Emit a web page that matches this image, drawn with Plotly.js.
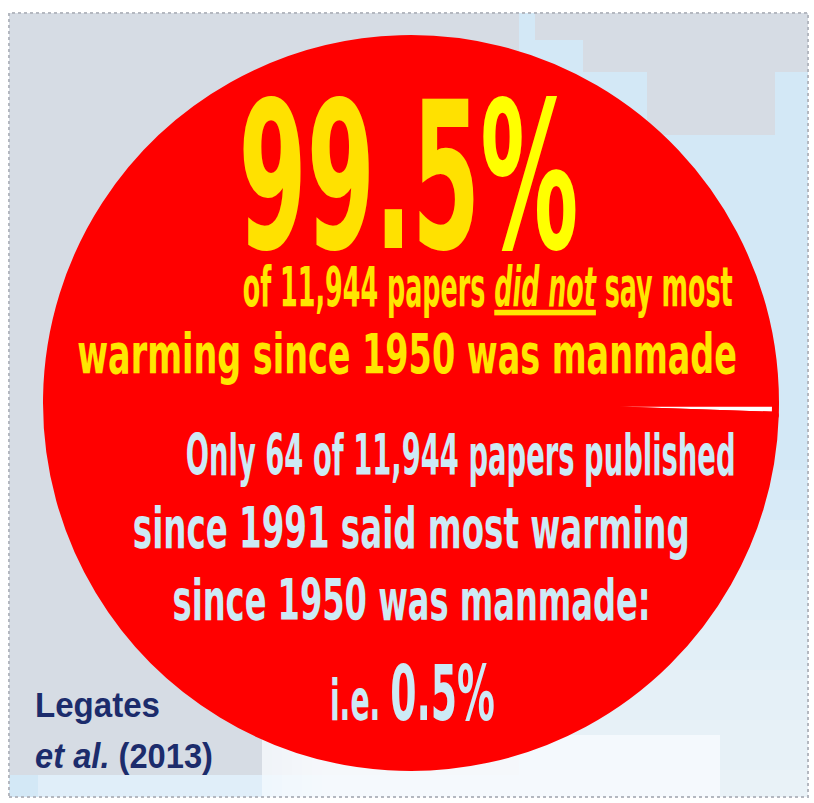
<!DOCTYPE html>
<html><head><meta charset="utf-8">
<script src="https://cdn.plot.ly/plotly-3.0.1.min.js"></script>
<style>html,body{margin:0;padding:0;background:#fff;} #chart{width:814px;height:803px;}</style>
</head><body><div id="chart"></div>
<script>
// ---- data ----
const sliceLabels = ['Said most warming since 1950 was manmade', 'Did not say so'];
const paperCounts = [64, 11880];
const sliceColors = ['#ffffff', '#ff0000'];
const headline = '<span style="color:#ffe100">99.5</span><span style="color:#ffff00">%</span>';
const yellowLines = ['of 11,944 papers <i><u>did not</u></i> say most', 'warming since 1950 was manmade'];
const blueLines = ['Only 64 of 11,944 papers published', 'since 1991 said most warming', 'since 1950 was manmade:', 'i.e. <span style="font-size:76px">0.5%</span>'];
const sourceLines = ['Legates', '<i>et al.</i> (2013)'];

// ---- geometry helpers (pixel -> paper) ----
const W = 814, H = 803;
const px = v => v / W;
const py = v => 1 - v / H;

const CONDENSED = '"Liberation Sans Narrow", "Arial Narrow", "DejaVu Sans Condensed", sans-serif';
const YELLOW = '#ffe600', BLUE = '#cdeaf5', NAVY = '#1c2c6c';

// text placement: centre x, baseline y, font size, target width
const lineSpecs = [
  {text: headline, size: 206, cx: 409, base: 248, w: 340, color: YELLOW, family: CONDENSED, weight: 700, anchor: 'center'},
  {text: yellowLines[0], size: 56, cx: 488, base: 306, w: 490, color: YELLOW, family: CONDENSED, weight: 700, anchor: 'center'},
  {text: yellowLines[1], size: 56, cx: 407, base: 373, w: 660, color: YELLOW, family: CONDENSED, weight: 700, anchor: 'center'},
  {text: blueLines[0], size: 57, cx: 460, base: 475, w: 550, color: BLUE, family: CONDENSED, weight: 700, anchor: 'center'},
  {text: blueLines[1], size: 57, cx: 411, base: 548, w: 557, color: BLUE, family: CONDENSED, weight: 700, anchor: 'center'},
  {text: blueLines[2], size: 57, cx: 411, base: 620, w: 478, color: BLUE, family: CONDENSED, weight: 700, anchor: 'center'},
  {text: blueLines[3], size: 57, cx: 412, base: 713, w: 165, color: BLUE, family: CONDENSED, weight: 700, anchor: 'center'},
  {text: sourceLines[0], size: 35, cx: 35, base: 717, w: 125, color: NAVY, family: '"Liberation Sans", Arial, sans-serif', weight: 700, anchor: 'left'},
  {text: sourceLines[1], size: 35, cx: 35, base: 768, w: 178, color: NAVY, family: '"Liberation Sans", Arial, sans-serif', weight: 700, anchor: 'left'}
];

const annotations = lineSpecs.map(s => ({
  text: s.text, xref: 'paper', yref: 'paper',
  x: px(s.cx), y: py(s.base - 0.3465 * s.size),
  xanchor: s.anchor, yanchor: 'middle', showarrow: false,
  font: {family: s.family, size: s.size, color: s.color, weight: s.weight},
  borderpad: 0, borderwidth: 0
}));

const rect = (x0, y0, x1, y1, fill, extra) => Object.assign({
  type: 'rect', xref: 'paper', yref: 'paper', layer: 'below',
  x0: px(x0), x1: px(x1), y0: py(y1), y1: py(y0),
  fillcolor: fill, line: {width: 0}
}, extra || {});

const GRAY = '#d6dce4';
const shapes = [
  rect(9, 13, 808, 797, '#d3e8f6'),
  rect(9, 13, 519, 775, GRAY),
  rect(535, 13, 808, 40, GRAY),
  rect(583, 40, 808, 72, GRAY),
  rect(647, 72, 775, 135, GRAY)
];
// soft lightening towards the bottom right (stepped wash)
for (let k = 0; k < 7; k++) {
  shapes.push(rect(262 + k * 10, 470 + k * 50, 808, 797, 'rgba(255,255,255,0.11)'));
}
shapes.push(rect(262, 735, 720, 797, 'rgba(250,252,255,0.7)'));
shapes.push(rect(38, 775, 262, 797, '#e0eef9'));
shapes.push(rect(9, 13, 808, 797, 'rgba(0,0,0,0)', {line: {color: '#b4b8c0', width: 2, dash: 'dot'}}));

// pie geometry: centre (411,403), radius 368 incl. half stroke
const R = 364.5, CX = 411, CY = 403;
const data = [{
  type: 'pie',
  labels: sliceLabels,
  values: paperCounts,
  marker: {colors: sliceColors, line: {color: '#ff0000', width: 7}},
  sort: false, direction: 'clockwise', rotation: 90,
  textinfo: 'none', hoverinfo: 'skip', showlegend: false,
  domain: {x: [px(CX - R), px(CX + R)], y: [py(CY + R), py(CY - R)]}
}];

const layout = {
  width: W, height: H, margin: {l: 0, r: 0, t: 0, b: 0},
  paper_bgcolor: '#ffffff', showlegend: false,
  shapes: shapes, annotations: annotations
};

Plotly.newPlot('chart', data, layout, {staticPlot: true, displayModeBar: false}).then(gd => {
  lineSpecs.forEach((s, i) => {
    const el = gd.querySelector('g.annotation[data-index="' + i + '"] text.annotation-text');
    if (!el) return;
    const bw = el.getBBox().width;
    if (!bw) return;
    const k = s.w / bw;
    el.style.transformBox = 'fill-box';
    el.style.transformOrigin = s.anchor === 'left' ? '0% 50%' : '50% 50%';
    el.style.transform = 'scaleX(' + k.toFixed(4) + ')';
  });
});
</script>
</body></html>
